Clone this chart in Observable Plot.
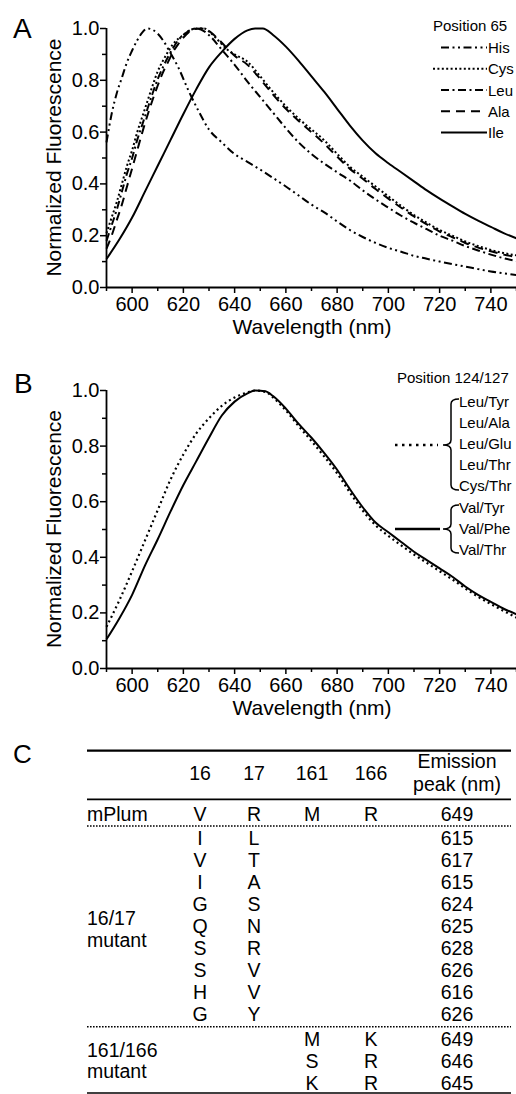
<!DOCTYPE html>
<html><head><meta charset="utf-8">
<script src="https://cdn.jsdelivr.net/npm/d3@7"></script>
<script src="https://cdn.jsdelivr.net/npm/@observablehq/plot@0.6"></script>
<style>
html,body{margin:0;padding:0;background:#fff;}
#root{position:relative;width:516px;height:1094px;overflow:hidden;font-family:"Liberation Sans",Arial,Helvetica,sans-serif;}
#root svg{position:absolute;left:0;overflow:visible;}
</style></head><body><div id="root"></div>
<script>
// ---------- Panel A data (Position 65) ----------
const hisNm  = [590,592,594,596,598,600,602,604,606,608,610,612,615,618,622,626,630,635,640,645,650,655,660,665,670,675,680,685,690,695,700,705,710,715,720,725,730,735,740,745,750];
const hisVal = [0.56,0.67,0.75,0.81,0.87,0.915,0.955,0.985,1.0,0.995,0.98,0.955,0.905,0.85,0.76,0.68,0.61,0.56,0.515,0.485,0.455,0.423,0.39,0.355,0.32,0.29,0.255,0.222,0.195,0.172,0.153,0.138,0.122,0.111,0.1,0.09,0.081,0.071,0.062,0.055,0.048];
const cysNm  = [590,592,594,596,598,600,602,604,606,608,610,612,614,616,618,620,622,625,628,631,634,637,640,645,650,655,660,665,670,675,680,685,690,695,700,705,710,715,720,725,730,735,740,745,750];
const cysVal = [0.21,0.27,0.33,0.4,0.47,0.53,0.6,0.66,0.72,0.78,0.835,0.875,0.91,0.94,0.96,0.975,0.99,1.0,1.0,0.98,0.95,0.92,0.9,0.872,0.815,0.755,0.70,0.652,0.61,0.568,0.516,0.466,0.428,0.39,0.352,0.315,0.28,0.25,0.222,0.2,0.178,0.16,0.145,0.133,0.124];
const leuNm  = [590,592,594,596,598,600,602,604,606,608,610,612,614,616,618,620,622,625,628,631,634,637,640,645,650,655,660,665,670,675,680,685,690,695,700,705,710,715,720,725,730,735,740,745,750];
const leuVal = [0.18,0.24,0.3,0.37,0.44,0.5,0.57,0.63,0.69,0.75,0.805,0.85,0.89,0.925,0.955,0.975,0.99,1.0,0.99,0.965,0.93,0.895,0.86,0.795,0.735,0.675,0.615,0.56,0.515,0.478,0.445,0.413,0.375,0.34,0.308,0.277,0.25,0.225,0.2,0.181,0.16,0.143,0.127,0.113,0.102];
const alaNm  = [590,592,594,596,598,600,602,604,606,608,610,612,614,616,618,620,622,624,627,630,633,636,640,645,650,655,660,665,670,675,680,685,690,695,700,705,710,715,720,725,730,735,740,745,750];
const alaVal = [0.15,0.2,0.26,0.32,0.39,0.46,0.53,0.6,0.665,0.725,0.78,0.83,0.87,0.91,0.94,0.965,0.985,0.997,1.0,0.99,0.965,0.935,0.895,0.86,0.805,0.745,0.69,0.643,0.6,0.555,0.505,0.458,0.42,0.38,0.343,0.308,0.274,0.244,0.216,0.194,0.172,0.154,0.14,0.127,0.118];
const ileNm  = [590,595,600,605,610,615,620,625,630,635,640,645,648,651,655,660,665,670,675,680,685,690,695,700,705,710,715,720,725,730,735,740,745,750];
const ileVal = [0.11,0.185,0.27,0.37,0.47,0.57,0.67,0.765,0.85,0.91,0.96,0.993,1.0,1.0,0.975,0.93,0.875,0.815,0.755,0.69,0.625,0.567,0.518,0.48,0.445,0.41,0.375,0.343,0.313,0.284,0.258,0.234,0.21,0.19];
const legendA = ["His","Cys","Leu","Ala","Ile"];

// ---------- Panel B data (Position 124/127) ----------
const bNm       = [590,595,600,605,610,615,620,625,630,635,640,645,648,652,655,660,665,670,675,680,685,690,695,700,705,710,715,720,725,730,735,740,745,750];
const leuGroupVal = [0.15,0.245,0.35,0.46,0.57,0.68,0.77,0.845,0.9,0.945,0.975,0.993,1.0,0.995,0.975,0.928,0.872,0.818,0.762,0.702,0.633,0.568,0.515,0.477,0.443,0.41,0.38,0.35,0.32,0.288,0.258,0.232,0.207,0.183];
const valGroupVal = [0.105,0.18,0.265,0.37,0.465,0.565,0.66,0.745,0.83,0.91,0.96,0.99,1.0,0.997,0.98,0.935,0.88,0.83,0.775,0.715,0.645,0.58,0.525,0.49,0.455,0.42,0.39,0.36,0.33,0.295,0.265,0.24,0.215,0.195];
const leuGroupNames = ["Leu/Tyr","Leu/Ala","Leu/Glu","Leu/Thr","Cys/Thr"];
const valGroupNames = ["Val/Tyr","Val/Phe","Val/Thr"];

// ---------- Axis ticks ----------
const xMajor = [600,620,640,660,680,700,720,740];
const xMinor = [590,610,630,650,670,690,710,730,750];
const yMajor = [0,0.2,0.4,0.6,0.8,1.0];
const yMinor = [0.1,0.3,0.5,0.7,0.9];

// ---------- Panel C table data ----------
const colHeaders = ["16","17","161","166"];
const peakHeader = ["Emission","peak (nm)"];
const mPlum = ["V","R","M","R","649"];
const m1617_16 = ["I","V","I","G","Q","S","S","H","G"];
const m1617_17 = ["L","T","A","S","N","R","V","V","Y"];
const m1617_peak = [615,617,615,624,625,628,626,616,626];
const m161_161 = ["M","S","K"];
const m161_166 = ["K","R","R"];
const m161_peak = [649,646,645];

const FONT = '"Liberation Sans", Arial, Helvetica, sans-serif';
const root = document.getElementById("root");
const rows = (nm, val) => nm.map((w, i) => ({w, v: val[i]}));

function txt(sel, x, y, size, t, anchor = "start") {
  return sel.append("text").attr("x", x).attr("y", y).attr("font-size", size).attr("font-family", FONT)
    .attr("text-anchor", anchor).attr("fill", "#000").text(t);
}

function spectrumPlot({top, height, marginTop, marginBottom, series}) {
  const marks = [
    Plot.axisX({ticks: xMinor, tickSize: 4, fill: "none", strokeWidth: 1.5}),
    Plot.axisX({ticks: xMajor, tickSize: 6, tickPadding: 3, label: null, fontSize: 20, strokeWidth: 1.5}),
    Plot.axisY({ticks: yMinor, tickSize: 4, fill: "none", strokeWidth: 1.5}),
    Plot.axisY({ticks: yMajor, tickSize: 6, tickPadding: 1, tickFormat: d3.format(".1f"), label: null, fontSize: 20, strokeWidth: 1.5}),
    Plot.ruleX([590], {strokeWidth: 1.8}),
    Plot.ruleY([0], {strokeWidth: 1.8})
  ];
  for (const s of series) {
    marks.push(Plot.line(s.data, {x: "w", y: "v", curve: "monotone-x", stroke: "#000", strokeWidth: s.width || 2, strokeDasharray: s.dash, strokeLinecap: "butt"}));
  }
  const svg = Plot.plot({
    width: 516, height, marginLeft: 106, marginRight: 0, marginTop, marginBottom,
    x: {domain: [590, 750]}, y: {domain: [0, 1]},
    style: {fontFamily: FONT, fontSize: "20px", color: "#000", background: "transparent", overflow: "visible"},
    marks
  });
  svg.style.top = top + "px";
  root.appendChild(svg);
  const sel = d3.select(svg);
  sel.append("text").attr("transform", `translate(61,${marginTop + (height - marginTop - marginBottom) / 2}) rotate(-90)`)
    .attr("text-anchor", "middle").attr("font-size", 21).attr("font-family", FONT).text("Normalized Fluorescence");
  txt(sel, 312, height - marginBottom + 47, 21, "Wavelength (nm)", "middle");
  return sel;
}

// ---------- Panel A ----------
const dashA = ["8,3.5,2,3.5,2,3.5", "2,2.4", "8,3.5,2,3.5", "9,6", null];
const dataA = [rows(hisNm, hisVal), rows(cysNm, cysVal), rows(leuNm, leuVal), rows(alaNm, alaVal), rows(ileNm, ileVal)];
const A = spectrumPlot({top: 0, height: 345, marginTop: 28, marginBottom: 58,
  series: dataA.map((d, i) => ({data: d, dash: dashA[i]}))});
txt(A, 13, 38, 28, "A");
txt(A, 433, 31, 15, "Position 65");
legendA.forEach((name, i) => {
  const yb = 53 + i * 21.25;
  A.append("line").attr("x1", i === 1 ? 433 : 441).attr("x2", i === 3 ? 481 : 487).attr("y1", yb - 5.5).attr("y2", yb - 5.5)
    .attr("stroke", "#000").attr("stroke-width", 2).attr("stroke-dasharray", dashA[i] || null);
  txt(A, 488, yb, 15, name);
});

// ---------- Panel B ----------
const B = spectrumPlot({top: 345, height: 378, marginTop: 45, marginBottom: 55,
  series: [{data: rows(bNm, leuGroupVal), dash: "2,3.2", width: 2.2}, {data: rows(bNm, valGroupVal), dash: null, width: 2}]});
txt(B, 14, 48, 28, "B");
txt(B, 397, 38, 15, "Position 124/127");
function brace(xr, xl, y1, y2, ym) {
  const xs = (xr + xl) / 2, r = 5;
  return `M${xr},${y1} Q${xs},${y1} ${xs},${y1 + r} L${xs},${ym - r} Q${xs},${ym} ${xl},${ym} Q${xs},${ym} ${xs},${ym + r} L${xs},${y2 - r} Q${xs},${y2} ${xr},${y2}`;
}
leuGroupNames.forEach((n, i) => txt(B, 459, 62 + i * 21, 15, n));
valGroupNames.forEach((n, i) => txt(B, 459, 168 + i * 21, 15, n));
B.append("path").attr("d", brace(459, 443, 54, 145, 100)).attr("fill", "none").attr("stroke", "#000").attr("stroke-width", 1.5);
B.append("path").attr("d", brace(459, 443, 160, 208, 184)).attr("fill", "none").attr("stroke", "#000").attr("stroke-width", 1.5);
B.append("line").attr("x1", 395).attr("x2", 438).attr("y1", 100).attr("y2", 100).attr("stroke", "#000").attr("stroke-width", 2.5).attr("stroke-dasharray", "2.5,4.5");
B.append("line").attr("x1", 395).attr("x2", 440).attr("y1", 184).attr("y2", 184).attr("stroke", "#000").attr("stroke-width", 2.5);

// ---------- Panel C (table) ----------
const T0 = 723;
const T = d3.select(root).append("svg").attr("width", 516).attr("height", 1094 - T0).style("top", T0 + "px")
  .attr("font-family", FONT).attr("font-size", 19.5);
const cols = [200, 254, 312, 371, 457];
const rowY = d3.scaleLinear().domain([0, 1]).range([820.7 - T0, 820.7 - T0 + 22]);
const yOf = i => rowY(i) + (i >= 1 ? 2.2 : 0) + (i >= 10 ? 2.8 : 0);
const hline = (y, w, dash) => T.append("line").attr("x1", 87).attr("x2", 511).attr("y1", y - T0).attr("y2", y - T0)
  .attr("stroke", "#000").attr("stroke-width", w).attr("stroke-dasharray", dash || null);
hline(750.7, 2.2); hline(799.3, 1.8); hline(826, 1.6, "1.6,1.4"); hline(1026.7, 1.6, "1.6,1.4"); hline(1093, 1.6);
txt(T, 13, 763 - T0, 26, "C");
const cell = (x, y, t, anchor = "middle") => T.append("text").attr("x", x).attr("y", y).attr("text-anchor", anchor).text(t);
colHeaders.forEach((h, j) => cell(cols[j], 780 - T0, h));
cell(cols[4], 768 - T0, peakHeader[0]);
cell(cols[4], 791 - T0, peakHeader[1]);
cell(87, yOf(0), "mPlum", "start");
mPlum.forEach((t, j) => cell(cols[j], yOf(0), t));
m1617_16.forEach((t, i) => { cell(cols[0], yOf(i + 1), t); cell(cols[1], yOf(i + 1), m1617_17[i]); cell(cols[4], yOf(i + 1), m1617_peak[i]); });
m161_161.forEach((t, i) => { cell(cols[2], yOf(i + 10), t); cell(cols[3], yOf(i + 10), m161_166[i]); cell(cols[4], yOf(i + 10), m161_peak[i]); });
cell(87, 925 - T0, "16/17", "start"); cell(87, 946.7 - T0, "mutant", "start");
cell(87, 1056.7 - T0, "161/166", "start"); cell(87, 1078 - T0, "mutant", "start");
</script></body></html>
